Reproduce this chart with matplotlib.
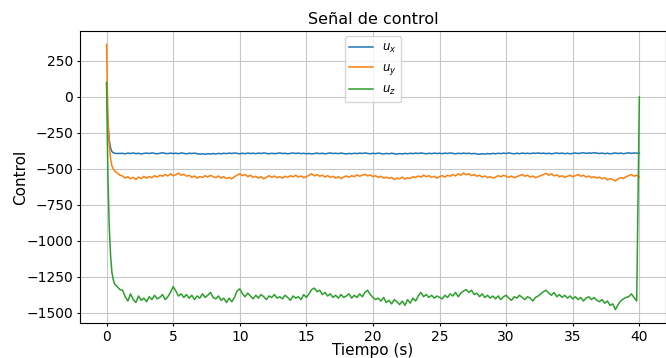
import matplotlib.pyplot as plt
import numpy as np

# sample times: dense at the start (transient), then every 0.2 s
t_ini = [0.0, 0.05, 0.1, 0.2, 0.3, 0.4, 0.5, 0.6, 0.8, 1.0]
t_steady = np.round(np.arange(1.2, 40.001, 0.2), 2)

ux_ini = [100, -50, -180, -300, -355, -380, -388, -392, -394, -393]
uy_ini = [365, 100, -150, -330, -430, -480, -500, -515, -530, -545]
uz_ini = [100, -250, -550, -900, -1100, -1220, -1270, -1300, -1320, -1340]

ux_steady = [
    -393, -396, -391, -394, -390, -395, -392, -397, -393, -391,
    -394, -390, -393, -396, -392, -389, -393, -395, -391, -394,
    -392, -395, -390, -393, -396, -392, -394, -391, -395, -398,
    -396, -399, -395, -398, -394, -397, -393, -396, -392, -395,
    -391, -394, -390, -393, -396, -392, -395, -391, -394, -392,
    -395, -391, -394, -390, -393, -396, -392, -395, -393, -390,
    -394, -392, -396, -393, -390, -394, -391, -395, -392, -396,
    -393, -397, -394, -391, -395, -392, -396, -393, -390, -394,
    -392, -395, -391, -394, -397, -393, -396, -392, -395, -391,
    -394, -390, -393, -396, -392, -395, -391, -394, -397, -393,
    -396, -392, -395, -398, -394, -397, -393, -396, -392, -395,
    -391, -394, -390, -393, -396, -392, -395, -391, -394, -392,
    -395, -391, -394, -390, -393, -396, -392, -395, -391, -394,
    -392, -396, -393, -397, -399, -395, -398, -394, -397, -393,
    -396, -392, -395, -391, -394, -390, -393, -396, -392, -395,
    -391, -394, -392, -395, -391, -393, -390, -394, -391, -395,
    -392, -396, -393, -390, -394, -391, -395, -392, -396, -393,
    -390, -394, -391, -389, -393, -390, -392, -388, -391, -394,
    -391, -395, -392, -396, -393, -390, -394, -391, -395, -392,
    -389, -393, -390, -392, -391,
]

uy_steady = [
    -550, -565, -555, -570, -560, -575, -558, -568, -553, -565,
    -555, -562, -548, -558, -545, -552, -540, -550, -535, -548,
    -542, -530, -545, -538, -552, -545, -560, -550, -565, -555,
    -560, -548, -558, -545, -555, -562, -550, -565, -555, -568,
    -560, -570, -555, -545, -535, -548, -540, -555, -545, -560,
    -552, -565, -555, -570, -558, -548, -560, -550, -562, -555,
    -565, -552, -560, -548, -556, -545, -558, -550, -562, -555,
    -545, -535, -550, -540, -552, -545, -558, -548, -560, -552,
    -565, -555, -568, -558, -550, -560, -548, -555, -542, -552,
    -545, -538, -550, -542, -555, -548, -560, -552, -565, -558,
    -568, -560, -575, -565, -570, -558, -572, -562, -568, -555,
    -562, -550, -558, -545, -555, -548, -560, -552, -565, -555,
    -548, -558, -545, -552, -540, -550, -535, -545, -530, -542,
    -535, -548, -540, -552, -545, -558, -550, -562, -555, -565,
    -558, -548, -556, -545, -552, -560, -550, -562, -555, -548,
    -540, -552, -545, -558, -550, -562, -555, -548, -540, -532,
    -545, -535, -550, -542, -556, -548, -560, -552, -545, -555,
    -548, -540, -552, -545, -558, -550, -562, -555, -565, -558,
    -570, -562, -578, -568, -575, -585, -570, -562, -568, -555,
    -548, -540, -552, -545, -558,
]

uz_steady = [
    -1345, -1390, -1420, -1370, -1410, -1430, -1385, -1415, -1400, -1425,
    -1390, -1410, -1380, -1405, -1395, -1375, -1410, -1390, -1360, -1320,
    -1350, -1385, -1370, -1395, -1375, -1400, -1380, -1410, -1385, -1400,
    -1370, -1395, -1380, -1360, -1395, -1405, -1385, -1415, -1400, -1430,
    -1400, -1425, -1395, -1350, -1335, -1370, -1390, -1365, -1385, -1405,
    -1380, -1400, -1375, -1390, -1410, -1385, -1395, -1375, -1400, -1390,
    -1405, -1380, -1395, -1415, -1385, -1400, -1390, -1410, -1375, -1395,
    -1370, -1340, -1330, -1355, -1345, -1375, -1360, -1385, -1370, -1395,
    -1380, -1400, -1375, -1395, -1385, -1370, -1400, -1380, -1395, -1370,
    -1390, -1360, -1345, -1375, -1395, -1410, -1400, -1420, -1395, -1430,
    -1415, -1440, -1410, -1425, -1445, -1420, -1450, -1410, -1435, -1400,
    -1420, -1385, -1360, -1390, -1375, -1395, -1380, -1400, -1385, -1395,
    -1405, -1380, -1395, -1370, -1385, -1360, -1390, -1365, -1350, -1340,
    -1360, -1345, -1375, -1365, -1390, -1370, -1395, -1380, -1400, -1385,
    -1405, -1385, -1410, -1390, -1380, -1400, -1415, -1390, -1400, -1380,
    -1395, -1410, -1390, -1400, -1420, -1395, -1385, -1370, -1355, -1345,
    -1365, -1380, -1360, -1390, -1375, -1395, -1380, -1400, -1385, -1405,
    -1390, -1410, -1395, -1420, -1400, -1390, -1410, -1395, -1415, -1425,
    -1410, -1435, -1420, -1450, -1440, -1480, -1445, -1420, -1405, -1395,
    -1390, -1370, -1395, -1420, 0,
]

t = np.concatenate([t_ini, t_steady])
ux = ux_ini + ux_steady
uy = uy_ini + uy_steady
uz = uz_ini + uz_steady

fig = plt.figure(figsize=(6.66, 3.58), dpi=100)
ax = fig.add_axes([0.120, 0.098, 0.880, 0.815])

ax.plot(t, ux, label="$u_x$", lw=1.1)
ax.plot(t, uy, label="$u_y$", lw=1.1)
ax.plot(t, uz, label="$u_z$", lw=1.1)

ax.set_title("Señal de control", fontsize=11.5, pad=5)
ax.set_xlabel("Tiempo (s)", fontsize=11)
ax.set_ylabel("Control", fontsize=11)
ax.xaxis.set_label_coords(0.5, -0.068)
ax.yaxis.set_label_coords(-0.088, 0.5)
ax.set_yticks([250, 0, -250, -500, -750, -1000, -1250, -1500])
ax.tick_params(labelsize=10, length=2.5, pad=2.5)
ax.grid(True, color="#c8c8c8")
ax.legend(loc="upper center", fontsize=8.5, borderaxespad=0.45)

plt.savefig("out.png", dpi=100)
